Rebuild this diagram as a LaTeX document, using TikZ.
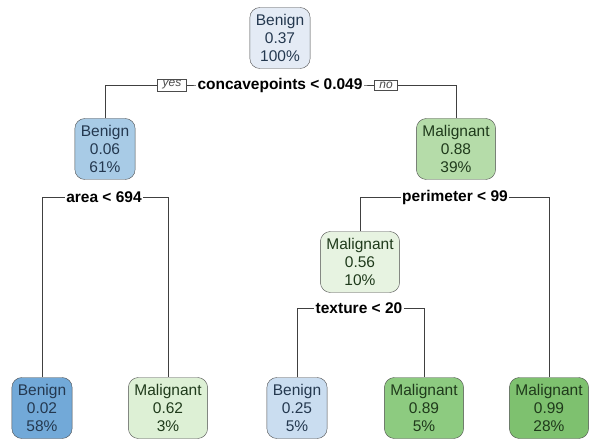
\documentclass[tikz,border=0pt]{standalone}
\usepackage{fontspec}
\setmainfont{Liberation Sans}
\definecolor{bcol}{HTML}{24384F}
\definecolor{mcol}{HTML}{1F3A1B}
\begin{document}
\begin{tikzpicture}[x=1pt,y=-1pt,
  box/.style={draw=black!70,rounded corners=10pt,align=center,
    font=\fontsize{15.5}{18}\selectfont,inner xsep=6pt,minimum height=61pt},
  ben/.style={box,text=bcol},
  mal/.style={box,text=mcol},
  lab/.style={fill=white,inner sep=1.5pt,font=\bfseries\fontsize{15.5}{17}\selectfont},
  yn/.style={draw=black!70,fill=white,inner xsep=5pt,inner ysep=1.5pt,font=\itshape\fontsize{12}{13}\selectfont,text=black!70},
  link/.style={black!75,line width=0.8pt}]
\useasboundingbox (0,0) rectangle (592,441);
% noeuds de l'arbre
\node[ben,fill={rgb,255:red,228;green,235;blue,245}] (root) at (280,38) {Benign\\0.37\\100\%};
\node[ben,fill={rgb,255:red,168;green,203;blue,230}] (b06) at (105,149) {Benign\\0.06\\61\%};
\node[mal,fill={rgb,255:red,181;green,220;blue,169}] (m88) at (456,149) {Malignant\\0.88\\39\%};
\node[mal,fill={rgb,255:red,231;green,243;blue,225}] (m56) at (360,262) {Malignant\\0.56\\10\%};
\node[ben,fill={rgb,255:red,114;green,169;blue,216}] (b02) at (42,408) {Benign\\0.02\\58\%};
\node[mal,fill={rgb,255:red,221;green,240;blue,213}] (m62) at (168,408) {Malignant\\0.62\\3\%};
\node[ben,fill={rgb,255:red,202;green,221;blue,240}] (b25) at (297,408) {Benign\\0.25\\5\%};
\node[mal,fill={rgb,255:red,141;green,203;blue,128}] (m89) at (424,408) {Malignant\\0.89\\5\%};
\node[mal,fill={rgb,255:red,126;green,193;blue,111}] (m99) at (549,408) {Malignant\\0.99\\28\%};

% separations
\coordinate (s1) at (280,85);
\coordinate (s2) at (104,197);
\coordinate (s3) at (455,197);
\coordinate (s4) at (359,308);
\draw[link] (b06.north) |- (s1) -| (m88.north);
\draw[link] (b02.north) |- (s2) -| (m62.north);
\draw[link] (m56.north) |- (s3) -| (m99.north);
\draw[link] (b25.north) |- (s4) -| (m89.north);

\node[lab] (l1) at (s1) {concavepoints < 0.049};
\node[lab] (l2) at (s2) {area < 694};
\node[lab] (l3) at (s3) {perimeter < 99};
\node[lab] (l4) at (s4) {texture < 20};
\node[yn] (yes) at (172,85) {yes};
\node[yn] (no) at (386,85) {no};
\end{tikzpicture}
\end{document}
